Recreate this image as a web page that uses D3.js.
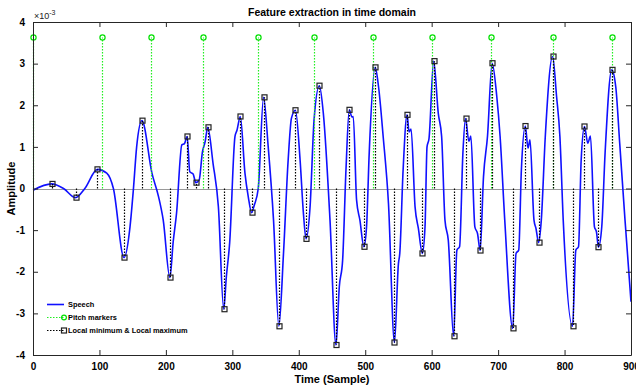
<!DOCTYPE html>
<html>
<head>
<meta charset="utf-8">
<script src="https://cdn.jsdelivr.net/npm/d3@7"></script>
<style>
  body { margin: 0; background: #fff; }
  svg { display: block; font-family: "Liberation Sans", Arial, sans-serif; }
</style>
</head>
<body>
<div id="chart"></div>
<script>
// speech samples (amplitude in units of 1e-3)
var speechSample = [0, 28, 46, 64, 78, 97, 111, 121, 137, 146, 151, 156, 164, 179, 189, 196, 206, 211, 216, 224, 228, 232, 236, 241, 245, 250, 255, 259, 263, 271, 279, 287, 291, 296, 304, 307, 312, 319, 324, 329, 333, 339, 347, 354, 362, 370, 377, 384, 389, 395, 402, 407, 411, 417, 423, 431, 437, 447, 456, 461, 466, 471, 476, 480, 482, 487, 492, 498, 502, 506, 515, 520, 527, 535, 544, 550, 552, 557, 563, 566, 569, 575, 580, 586, 590, 593, 596, 603, 610, 615, 620, 625, 633, 638, 642, 647, 651, 656, 659, 665, 669, 673, 678, 684, 691, 698, 703, 710, 722, 727, 731, 735, 741, 745, 748, 754, 757, 761, 765, 771, 782, 788, 793, 798, 812, 817, 821, 825, 830, 835, 839, 845, 848, 851, 856, 861, 871, 877, 883, 891, 900];
var speechValue = [-0.04, 0.11, 0, -0.22, 0, 0.46, 0.37, 0, -1.66, -0.92, -0.04, 1.0, 1.63, 0.37, -0.2, -0.76, -2.14, -1.28, -0.6, 1.05, 1.08, 1.25, 0.4, 0.35, 0.14, 0.2, 0.88, 1.12, 1.47, 0.6, -0.44, -2.9, -2.12, -1.3, 1.25, 1.4, 1.73, 0.37, -0.2, -0.58, -0.4, 0, 2.19, 1.0, -0.76, -3.31, -1.56, 0.68, 1.69, 1.88, 0.68, -0.6, -1.21, -0.44, 1.65, 2.47, 1.8, -0.76, -3.76, -2.36, -1.72, 0.44, 1.89, 1.72, 1.73, -0.28, -0.76, -1.40, -0.92, 0.85, 2.91, 2.45, 1.25, -0.36, -3.70, -1.8, -1.56, 0.44, 1.77, 1.36, 1.43, -0.44, -0.96, -1.56, -0.92, 1.0, 1.2, 3.06, 1.8, 1.25, -0.76, -1.24, -3.55, -1.48, -1.4, 0.85, 1.68, 1.13, 1.26, -0.92, -1.08, -1.49, 0.28, 1.25, 3.01, 2.21, 1.25, -0.76, -3.36, -1.56, -1.48, 0.44, 1.5, 0.97, 1.17, -0.76, -0.96, -1.3, -0.76, 1.25, 3.17, 2.21, 1.25, -0.76, -3.31, -1.48, -1.4, 0.68, 1.49, 1.09, 1.26, -0.92, -1.04, -1.41, -0.92, 0.85, 2.85, 2.45, 1.09, -0.76, -2.72];

// local minimum & local maximum
var extremaSample = [28, 64, 97, 137, 164, 206, 232, 245, 263, 287, 312, 329, 347, 370, 395, 411, 431, 456, 476, 498, 515, 544, 563, 586, 603, 633, 651, 673, 691, 722, 741, 761, 782, 812, 830, 851, 871];
var extremaValue = [0.11, -0.22, 0.46, -1.66, 1.63, -2.14, 1.25, 0.14, 1.47, -2.9, 1.73, -0.58, 2.19, -3.31, 1.88, -1.21, 2.47, -3.76, 1.89, -1.40, 2.91, -3.70, 1.77, -1.56, 3.06, -3.55, 1.68, -1.49, 3.01, -3.36, 1.5, -1.3, 3.17, -3.31, 1.49, -1.41, 2.85];

// pitch markers
var pitchSample = [0, 104, 178, 256, 338, 423, 511, 600, 690, 782, 872];
var pitchValue = 3.63;

var xTicks = [0, 100, 200, 300, 400, 500, 600, 700, 800, 900];
var yTicks = [-4, -3, -2, -1, 0, 1, 2, 3, 4];

var cWidth = 636, cHeight = 388;
var margin = {top: 22, right: 5, bottom: 33, left: 33};
var plotW = cWidth - margin.left - margin.right;
var plotH = cHeight - margin.top - margin.bottom;

var svg = d3.select("#chart").append("svg")
  .attr("width", cWidth)
  .attr("height", cHeight);

var xScale = d3.scaleLinear().domain([0, 900]).range([margin.left, margin.left + plotW]);
var yScale = d3.scaleLinear().domain([-4, 4]).range([margin.top + plotH, margin.top]);

// snap stems to the pixel grid so the dots stay crisp
var xPix = function(s) { return Math.round(xScale(s)) + 0.5; };

var g = svg.append("g");

// axes (ticks inside, box all round)
var fmt = function(d) { return String(d); };
var axisColor = "#262626";
var xAxis = d3.axisBottom(xScale).tickValues(xTicks).tickFormat(fmt).tickSizeInner(-5).tickSizeOuter(0).tickPadding(8);
var xAxisTop = d3.axisTop(xScale).tickValues(xTicks).tickFormat("").tickSizeInner(-5).tickSizeOuter(0);
var yAxis = d3.axisLeft(yScale).tickValues(yTicks).tickFormat(fmt).tickSizeInner(-5).tickSizeOuter(0).tickPadding(8);
var yAxisRight = d3.axisRight(yScale).tickValues(yTicks).tickFormat("").tickSizeInner(-5).tickSizeOuter(0);

var axes = [
  [xAxis, "translate(0," + (margin.top + plotH) + ")"],
  [xAxisTop, "translate(0," + margin.top + ")"],
  [yAxis, "translate(" + margin.left + ",0)"],
  [yAxisRight, "translate(" + (margin.left + plotW) + ",0)"]
];
axes.forEach(function(a) {
  var ag = svg.append("g").attr("transform", a[1]).call(a[0]);
  ag.select(".domain").attr("stroke", axisColor);
  ag.selectAll(".tick line").attr("stroke", axisColor);
  ag.selectAll(".tick text")
    .attr("fill", "#000")
    .style("font-size", "10px")
    .style("font-weight", "bold");
});

// zero baseline
g.append("line")
  .attr("x1", xScale(0)).attr("x2", xScale(900))
  .attr("y1", Math.round(yScale(0)) + 0.5).attr("y2", Math.round(yScale(0)) + 0.5)
  .attr("stroke", "#999")
  .attr("stroke-width", 1);

// speech
var line = d3.line()
  .x(function(d, i) { return xScale(speechSample[i]); })
  .y(function(d) { return yScale(d); })
  .curve(d3.curveMonotoneX);

g.append("path")
  .datum(speechValue)
  .attr("d", line)
  .attr("fill", "none")
  .attr("stroke", "#1010ff")
  .attr("stroke-width", 1.6);

// pitch markers (stems)
g.selectAll(".pstem")
  .data(pitchSample)
  .enter()
  .append("line")
  .attr("class", "pstem")
  .attr("x1", function(d) { return xPix(d); })
  .attr("x2", function(d) { return xPix(d); })
  .attr("y1", yScale(0))
  .attr("y2", yScale(pitchValue))
  .attr("stroke", "#22ee22")
  .attr("stroke-width", 1.2)
  .attr("stroke-dasharray", "1.5,1.5");

g.selectAll(".pmark")
  .data(pitchSample)
  .enter()
  .append("circle")
  .attr("class", "pmark")
  .attr("cx", function(d) { return xPix(d); })
  .attr("cy", yScale(pitchValue))
  .attr("r", 2.6)
  .attr("fill", "none")
  .attr("stroke", "#00e000")
  .attr("stroke-width", 1.2);

// extrema (stems)
g.selectAll(".estem")
  .data(extremaValue)
  .enter()
  .append("line")
  .attr("class", "estem")
  .attr("x1", function(d, i) { return xPix(extremaSample[i]); })
  .attr("x2", function(d, i) { return xPix(extremaSample[i]); })
  .attr("y1", yScale(0))
  .attr("y2", function(d) { return yScale(d); })
  .attr("stroke", "#000")
  .attr("stroke-width", 1.2)
  .attr("stroke-dasharray", "1.5,1.5");

g.selectAll(".emark")
  .data(extremaValue)
  .enter()
  .append("rect")
  .attr("class", "emark")
  .attr("x", function(d, i) { return xPix(extremaSample[i]) - 2.5; })
  .attr("y", function(d) { return yScale(d) - 2.5; })
  .attr("width", 5)
  .attr("height", 5)
  .attr("fill", "none")
  .attr("stroke", "#222")
  .attr("stroke-width", 1.2);

// title and labels
svg.append("text")
  .attr("x", margin.left + plotW / 2)
  .attr("y", 16)
  .attr("text-anchor", "middle")
  .style("font-size", "10.5px")
  .style("font-weight", "bold")
  .text("Feature extraction in time domain");

svg.append("text")
  .attr("x", margin.left + plotW / 2)
  .attr("y", 383)
  .attr("text-anchor", "middle")
  .style("font-size", "11px")
  .style("font-weight", "bold")
  .text("Time (Sample)");

svg.append("text")
  .attr("transform", "translate(15," + (margin.top + plotH / 2) + ") rotate(-90)")
  .attr("text-anchor", "middle")
  .style("font-size", "11px")
  .style("font-weight", "bold")
  .text("Amplitude");

var expo = svg.append("text")
  .attr("x", 34)
  .attr("y", 19)
  .style("font-size", "9px")
  .attr("fill", "#222");
expo.append("tspan").text("\u00d710");
expo.append("tspan").attr("dy", -4).style("font-size", "7px").text("-3");

// legend
var legend = svg.append("g").attr("transform", "translate(47,304)");
var legItems = ["Speech", "Pitch markers", "Local minimum & Local maximum"];
legItems.forEach(function(name, i) {
  var row = legend.append("g").attr("transform", "translate(0," + (i * 13) + ")");
  var ln = row.append("line").attr("x1", 0).attr("x2", 17).attr("y1", 0.5).attr("y2", 0.5);
  if (i === 0) {
    ln.attr("stroke", "#1010ff").attr("stroke-width", 1.6);
  } else if (i === 1) {
    ln.attr("stroke", "#22ee22").attr("stroke-width", 1.2).attr("stroke-dasharray", "1.5,1.5");
    row.append("circle").attr("cx", 17).attr("cy", 0.5).attr("r", 2.4)
      .attr("fill", "none").attr("stroke", "#00e000").attr("stroke-width", 1.2);
  } else {
    ln.attr("stroke", "#000").attr("stroke-width", 1.2).attr("stroke-dasharray", "1.5,1.5");
    row.append("rect").attr("x", 14.5).attr("y", -2).attr("width", 5).attr("height", 5)
      .attr("fill", "none").attr("stroke", "#222").attr("stroke-width", 1.2);
  }
  row.append("text")
    .attr("x", 21)
    .attr("y", 3)
    .style("font-size", "7.4px")
    .style("font-weight", "bold")
    .text(name);
});
</script>
</body>
</html>
